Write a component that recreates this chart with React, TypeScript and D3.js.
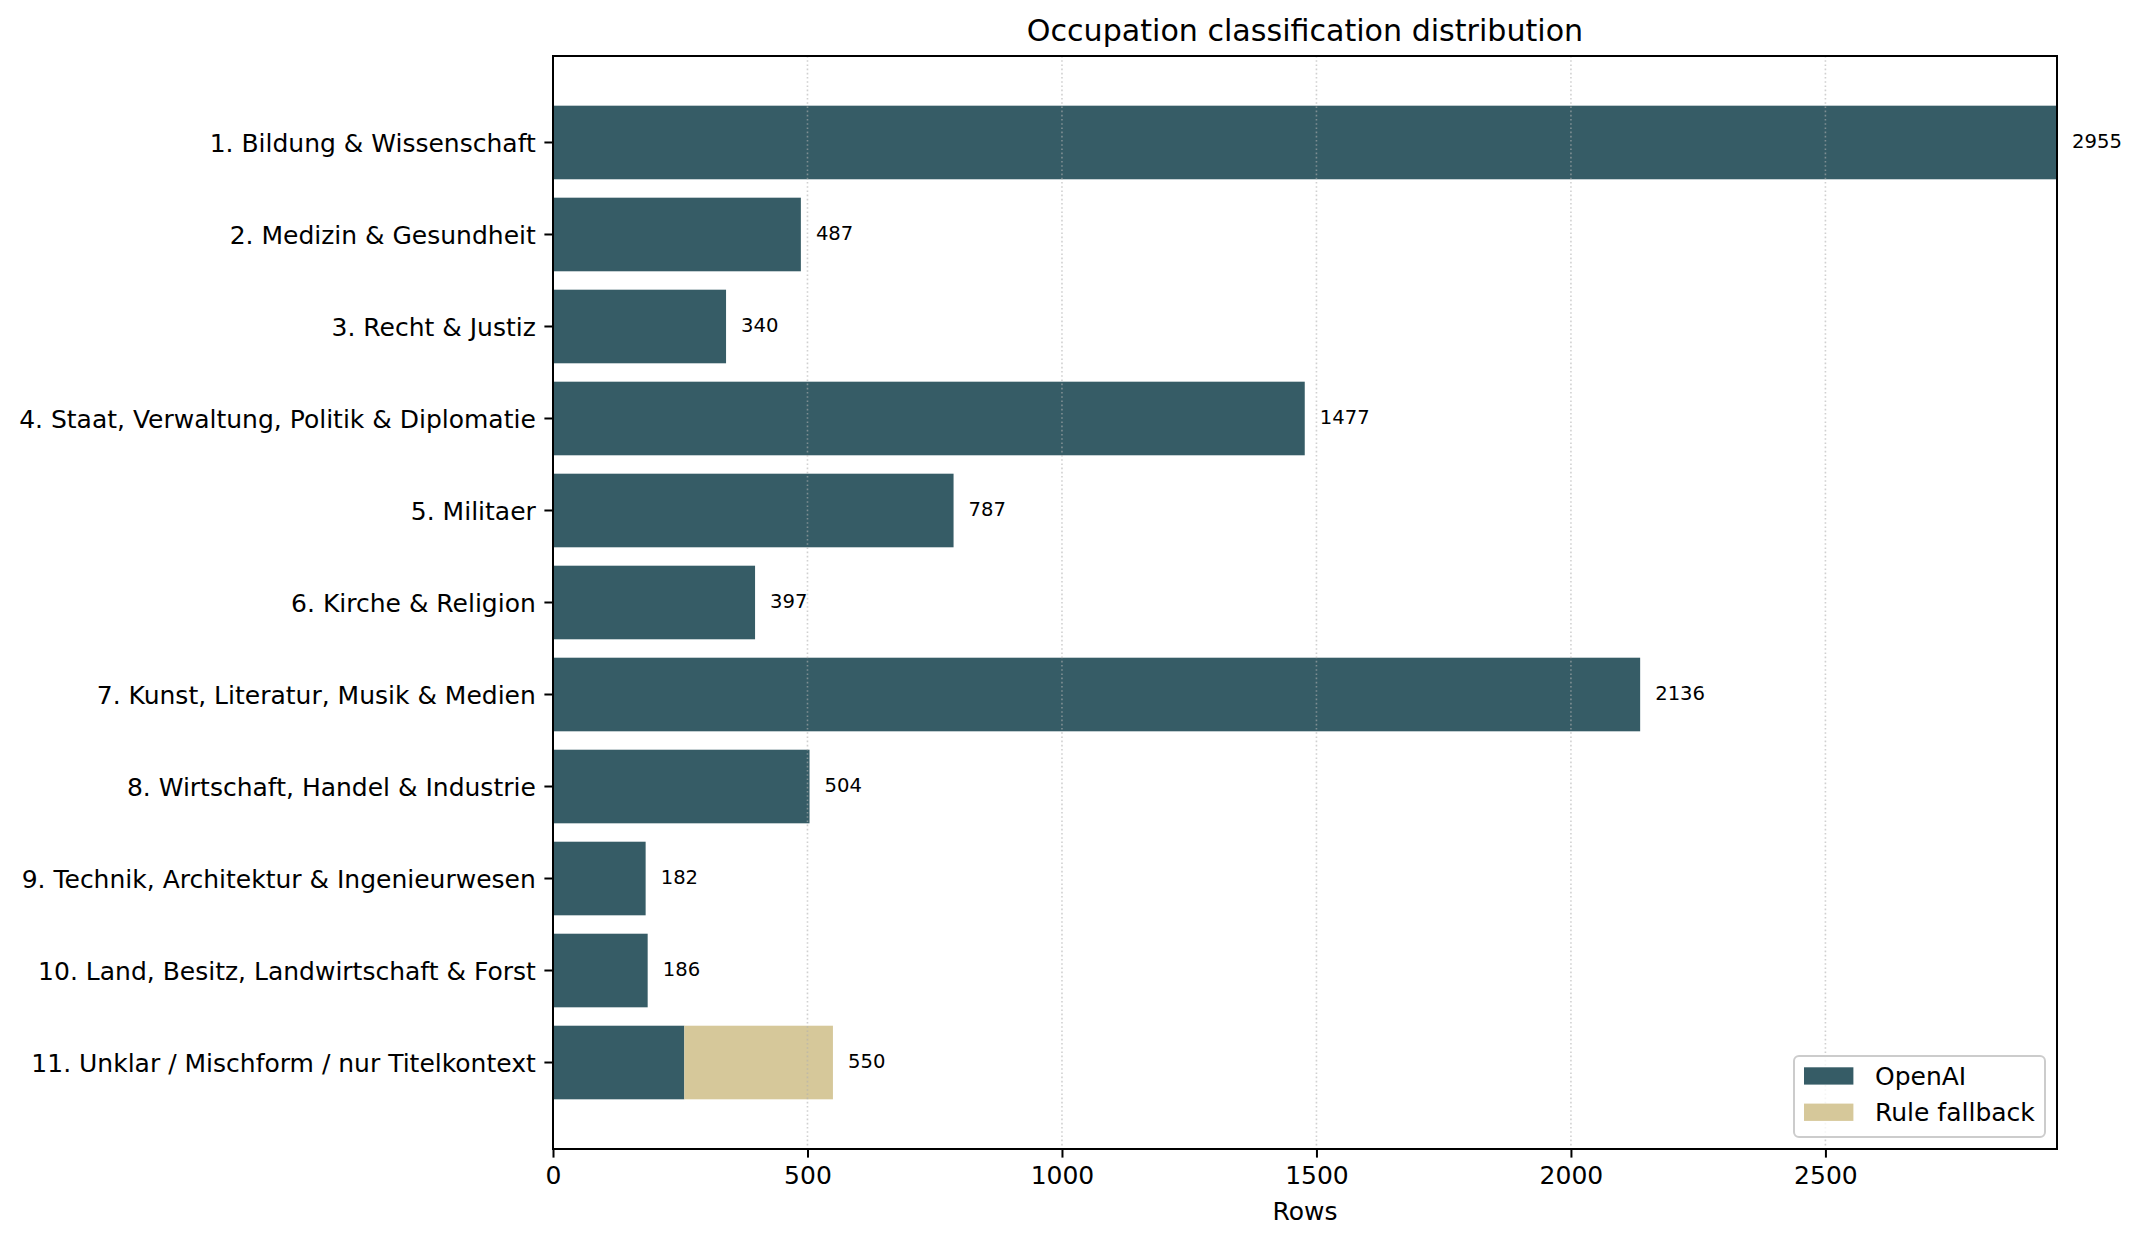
import { useEffect, useRef } from "react";
import * as d3 from "d3";

const categories = [
  "1. Bildung & Wissenschaft",
  "2. Medizin & Gesundheit",
  "3. Recht & Justiz",
  "4. Staat, Verwaltung, Politik & Diplomatie",
  "5. Militaer",
  "6. Kirche & Religion",
  "7. Kunst, Literatur, Musik & Medien",
  "8. Wirtschaft, Handel & Industrie",
  "9. Technik, Architektur & Ingenieurwesen",
  "10. Land, Besitz, Landwirtschaft & Forst",
  "11. Unklar / Mischform / nur Titelkontext",
];
const openaiRows = [2955, 487, 340, 1477, 787, 397, 2136, 504, 182, 186, 258];
const fallbackRows = [0, 0, 0, 0, 0, 0, 0, 0, 0, 0, 292];
const xTicks = [0, 500, 1000, 1500, 2000, 2500];
const seriesNames = ["OpenAI", "Rule fallback"];
const seriesColors = ["#365c66", "#d6c89a"];

const FONT = "DejaVu Sans, sans-serif";

export default function App() {
  const svgRef = useRef<SVGSVGElement>(null);

  useEffect(() => {
    if (!svgRef.current) return;
    const svg = d3.select(svgRef.current);
    svg.selectAll("*").remove();

    const width = 2140;
    const height = 1242;
    const margin = { top: 56, right: 83, bottom: 93, left: 553 };
    const plotW = width - margin.left - margin.right;
    const plotH = height - margin.top - margin.bottom;
    const fs = 25;

    svg.attr("width", width).attr("height", height);
    svg.append("rect").attr("width", width).attr("height", height).attr("fill", "white");

    const totals = openaiRows.map((v, i) => v + fallbackRows[i]);
    const maxTotal = d3.max(totals) as number;

    const x = d3.scaleLinear().domain([0, maxTotal]).range([0, plotW]);
    const y = d3
      .scaleBand<string>()
      .domain(categories)
      .range([0, plotH])
      .paddingInner(0.2)
      .paddingOuter(0.54);

    const g = svg
      .append("g")
      .attr("transform", `translate(${margin.left},${margin.top})`);

    // stacked bars
    const rows = categories.map((c, i) => ({ c, a: openaiRows[i], b: fallbackRows[i] }));
    g.selectAll("rect.openai")
      .data(rows)
      .enter()
      .append("rect")
      .attr("x", x(0))
      .attr("y", (d) => y(d.c) as number)
      .attr("width", (d) => x(d.a) - x(0))
      .attr("height", y.bandwidth())
      .attr("fill", seriesColors[0]);

    g.selectAll("rect.fallback")
      .data(rows.filter((d) => d.b > 0))
      .enter()
      .append("rect")
      .attr("x", (d) => x(d.a))
      .attr("y", (d) => y(d.c) as number)
      .attr("width", (d) => x(d.a + d.b) - x(d.a))
      .attr("height", y.bandwidth())
      .attr("fill", seriesColors[1]);

    // grid (drawn above bars like matplotlib's default)
    g.selectAll("line.grid")
      .data(xTicks)
      .enter()
      .append("line")
      .attr("x1", (d) => x(d))
      .attr("x2", (d) => x(d))
      .attr("y1", 0)
      .attr("y2", plotH)
      .attr("stroke", "#b0b0b0")
      .attr("stroke-opacity", 0.6)
      .attr("stroke-width", 1.6)
      .attr("stroke-dasharray", "1.6,2.6");

    // value labels
    g.selectAll("text.value")
      .data(rows)
      .enter()
      .append("text")
      .attr("x", (d) => x(d.a + d.b + maxTotal * 0.01))
      .attr("y", (d) => (y(d.c) as number) + y.bandwidth() / 2)
      .attr("dy", "0.3em")
      .attr("font-family", FONT)
      .attr("font-size", 19.6)
      .attr("fill", "black")
      .text((d) => d.a + d.b);

    // x axis
    const xAxis = g
      .append("g")
      .attr("transform", `translate(0,${plotH})`)
      .call(
        d3
          .axisBottom(x)
          .tickValues(xTicks)
          .tickFormat((d) => String(d))
          .tickSize(8.6)
          .tickPadding(8.6)
      );
    xAxis.select(".domain").remove();
    xAxis.selectAll("line").attr("stroke", "black").attr("stroke-width", 2);
    xAxis
      .selectAll("text")
      .attr("font-family", FONT)
      .attr("font-size", fs)
      .attr("fill", "black");

    // y axis
    const yAxis = g.append("g").call(d3.axisLeft(y).tickSize(8.6).tickPadding(8.6));
    yAxis.select(".domain").remove();
    yAxis.selectAll("line").attr("stroke", "black").attr("stroke-width", 2);
    yAxis
      .selectAll("text")
      .attr("font-family", FONT)
      .attr("font-size", fs)
      .attr("fill", "black")
      .attr("dy", "0.38em");

    // frame
    g.append("rect")
      .attr("width", plotW)
      .attr("height", plotH)
      .attr("fill", "none")
      .attr("stroke", "black")
      .attr("stroke-width", 2);

    // title + axis label
    svg
      .append("text")
      .attr("x", margin.left + plotW / 2)
      .attr("y", margin.top - 15)
      .attr("text-anchor", "middle")
      .attr("font-family", FONT)
      .attr("font-size", 30.1)
      .text("Occupation classification distribution");

    svg
      .append("text")
      .attr("x", margin.left + plotW / 2)
      .attr("y", 1220)
      .attr("text-anchor", "middle")
      .attr("font-family", FONT)
      .attr("font-size", fs)
      .text("Rows");

    // legend
    const legend = svg.append("g").attr("transform", "translate(1794,1056)");
    legend
      .append("rect")
      .attr("width", 251)
      .attr("height", 81)
      .attr("rx", 5)
      .attr("fill", "white")
      .attr("fill-opacity", 0.8)
      .attr("stroke", "#cccccc")
      .attr("stroke-width", 2);

    const items = legend
      .selectAll("g.item")
      .data(seriesNames)
      .enter()
      .append("g")
      .attr("transform", (d, i) => `translate(0,${20 + i * 36.3})`);
    items
      .append("rect")
      .attr("x", 10)
      .attr("y", -8.7)
      .attr("width", 49.4)
      .attr("height", 17.3)
      .attr("fill", (d, i) => seriesColors[i]);
    items
      .append("text")
      .attr("x", 81)
      .attr("y", 0)
      .attr("dy", "0.36em")
      .attr("font-family", FONT)
      .attr("font-size", fs)
      .text((d) => d);
  }, []);

  return (
    <svg
      ref={svgRef}
      style={{ position: "absolute", left: 0, top: 0, display: "block" }}
    ></svg>
  );
}
